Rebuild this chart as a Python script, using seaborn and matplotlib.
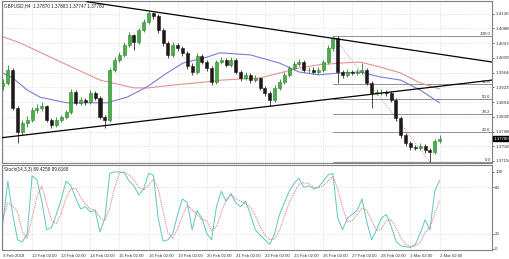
import numpy as np
import pandas as pd
import matplotlib
matplotlib.use("Agg")
import matplotlib.pyplot as plt
import seaborn as sns
from matplotlib.transforms import blended_transform_factory

sns.set_style("white")
plt.rcParams['font.family'] = ['Liberation Sans', 'DejaVu Sans']

# ---------------- data ----------------
symbol_title = "GBPUSD,H4  1.37870 1.37883 1.37747 1.37780"
stoch_title = "Stoch(14,3,3) 89.4258 89.6168"

opens = [1.3925, 1.3935, 1.3972, 1.3864, 1.3797, 1.3822, 1.3831, 1.3859, 1.3864, 1.3870,
         1.3831, 1.3817, 1.3831, 1.3839, 1.3853, 1.3910, 1.3879, 1.3887, 1.3881, 1.3907,
         1.3893, 1.3839, 1.3831, 1.3972, 1.4000, 1.4014, 1.4042, 1.4070, 1.4051, 1.4084,
         1.4107, 1.4132, 1.4124, 1.4084, 1.4048, 1.4014, 1.4042, 1.4034, 1.4020, 1.3983,
         1.3966, 1.4011, 1.3994, 1.3977, 1.3938, 1.3994, 1.4000, 1.3986, 1.4000, 1.3966,
         1.3949, 1.3958, 1.3943, 1.3949, 1.3921, 1.3907, 1.3887, 1.3921, 1.3938, 1.3958,
         1.3977, 1.3989, 1.3994, 1.3972, 1.3972, 1.3966, 1.3972, 1.3994, 1.4034, 1.4062,
         1.3966, 1.3958, 1.3966, 1.3963, 1.3966, 1.3972, 1.3935, 1.3907, 1.3910, 1.3910,
         1.3907, 1.3887, 1.3836, 1.3788, 1.3766, 1.3754, 1.3752, 1.3757, 1.3746, 1.3740,
         1.3771]
closes = [1.3935, 1.3972, 1.3864, 1.3797, 1.3822, 1.3831, 1.3859, 1.3864, 1.3870, 1.3831,
          1.3817, 1.3831, 1.3839, 1.3853, 1.3910, 1.3879, 1.3887, 1.3881, 1.3907, 1.3893,
          1.3839, 1.3831, 1.3972, 1.4000, 1.4014, 1.4042, 1.4070, 1.4051, 1.4084, 1.4107,
          1.4132, 1.4124, 1.4084, 1.4048, 1.4014, 1.4042, 1.4034, 1.4020, 1.3983, 1.3966,
          1.4011, 1.3994, 1.3977, 1.3938, 1.3994, 1.4000, 1.3986, 1.4000, 1.3966, 1.3949,
          1.3958, 1.3943, 1.3949, 1.3921, 1.3907, 1.3887, 1.3921, 1.3938, 1.3958, 1.3977,
          1.3989, 1.3994, 1.3972, 1.3972, 1.3966, 1.3972, 1.3994, 1.4034, 1.4062, 1.3966,
          1.3958, 1.3966, 1.3963, 1.3966, 1.3972, 1.3935, 1.3907, 1.3910, 1.3910, 1.3907,
          1.3887, 1.3836, 1.3788, 1.3766, 1.3754, 1.3752, 1.3757, 1.3746, 1.3740, 1.3771,
          1.3778]
highs = [1.3945, 1.3986, 1.3978, 1.3870, 1.3830, 1.3842, 1.3868, 1.3875, 1.3882, 1.3874,
         1.3836, 1.3838, 1.3846, 1.3860, 1.3918, 1.3914, 1.3896, 1.3893, 1.3915, 1.3912,
         1.3897, 1.3845, 1.3978, 1.4008, 1.4022, 1.4050, 1.4078, 1.4074, 1.4091, 1.4115,
         1.4137, 1.4136, 1.4128, 1.4090, 1.4054, 1.4050, 1.4049, 1.4040, 1.4025, 1.3990,
         1.4018, 1.4016, 1.4000, 1.3982, 1.4001, 1.4009, 1.4006, 1.4007, 1.4004, 1.3971,
         1.3966, 1.3963, 1.3957, 1.3953, 1.3927, 1.3912, 1.3928, 1.3945, 1.3965, 1.3984,
         1.3997, 1.4003, 1.3999, 1.3980, 1.3979, 1.3980, 1.4001, 1.4042, 1.4068, 1.4066,
         1.3972, 1.3973, 1.3971, 1.3974, 1.3991, 1.3977, 1.3940, 1.3918, 1.3917, 1.3916,
         1.3912, 1.3892, 1.3842, 1.3794, 1.3772, 1.3761, 1.3765, 1.3762, 1.3751, 1.3778,
         1.3787]
lows = [1.3915, 1.3928, 1.3858, 1.3766, 1.3789, 1.3812, 1.3825, 1.3850, 1.3856, 1.3824,
        1.3808, 1.3811, 1.3825, 1.3833, 1.3848, 1.3872, 1.3872, 1.3874, 1.3877, 1.3886,
        1.3832, 1.3808, 1.3826, 1.3965, 1.3993, 1.4008, 1.4036, 1.4028, 1.4045, 1.4078,
        1.4100, 1.4115, 1.4077, 1.4040, 1.4006, 1.4008, 1.4026, 1.4012, 1.3975, 1.3957,
        1.3960, 1.3987, 1.3970, 1.3930, 1.3932, 1.3987, 1.3979, 1.3980, 1.3959, 1.3941,
        1.3943, 1.3936, 1.3937, 1.3914, 1.3899, 1.3870, 1.3882, 1.3915, 1.3932, 1.3952,
        1.3971, 1.3983, 1.3965, 1.3964, 1.3959, 1.3960, 1.3967, 1.3989, 1.4026, 1.3935,
        1.3950, 1.3952, 1.3956, 1.3957, 1.3961, 1.3928, 1.3864, 1.3900, 1.3902, 1.3899,
        1.3880, 1.3829, 1.3780, 1.3758, 1.3746, 1.3745, 1.3746, 1.3738, 1.3712, 1.3735,
        1.3766]

# moving averages (bar index, price)
ma_red_idx = [0, 3.5, 11, 20, 27, 30, 35, 42, 45, 53, 61, 65, 69.5, 73.6, 77.7, 82, 86, 90]
ma_red_val = [1.4065, 1.4048, 1.4000, 1.3943, 1.3921, 1.3921, 1.3929, 1.3938, 1.3943,
              1.3949, 1.3977, 1.3986, 1.3991, 1.3994, 1.3980, 1.3963, 1.3935, 1.3918]
ma_blue_idx = [0, 2, 5, 7.6, 10.3, 13.2, 17.3, 21.4, 25.6, 29.7, 33.8, 37.1, 42.1, 44.7,
               51, 57, 61, 65, 69.5, 73.6, 77.7, 82, 86, 90]
ma_blue_val = [1.3963, 1.3949, 1.3915, 1.3895, 1.3887, 1.3879, 1.3879, 1.3879, 1.3895,
               1.3924, 1.3963, 1.3991, 1.4008, 1.4020, 1.4014, 1.3991, 1.3966, 1.3958,
               1.3963, 1.3966, 1.3952, 1.3943, 1.3915, 1.3879]

# trend lines (bar index, price)
upper_trend_idx = [17.3, 100.8]
upper_trend_val = [1.4164, 1.3994]
lower_trend_idx = [-0.6, 100.8]
lower_trend_val = [1.3780, 1.3943]

# fibonacci retracement anchors
fib_high_idx, fib_high = 68, 1.4068
fib_low_idx, fib_low = 88, 1.3712
fib_levels = [100.0, 61.8, 50.0, 38.2, 23.6, 0.0]

# stochastic
stoch_k = [34, 88, 45, 12, 9, 20, 95, 90, 62, 25, 28, 45, 64, 88, 82, 66, 52, 55, 48, 50,
           22, 40, 98, 100, 100, 99, 88, 82, 70, 78, 98, 96, 40, 10, 12, 20, 45, 65, 60, 25,
           50, 40, 20, 12, 55, 75, 62, 72, 60, 55, 62, 45, 25, 18, 12, 6, 20, 45, 60, 75,
           85, 92, 80, 82, 78, 80, 88, 96, 98, 40, 25, 40, 45, 50, 65, 35, 12, 25, 40, 45,
           30, 10, 4, 3, 2, 6, 20, 38, 25, 75, 89]
stoch_d = [40, 60, 56, 48, 22, 14, 41, 68, 82, 59, 38, 33, 46, 66, 78, 79, 67, 58, 52, 51,
           40, 37, 53, 79, 99, 100, 96, 90, 80, 77, 82, 91, 78, 49, 21, 14, 26, 43, 57, 50,
           45, 38, 37, 24, 29, 47, 64, 70, 65, 62, 59, 54, 44, 29, 18, 12, 13, 24, 42, 60,
           73, 84, 86, 85, 80, 80, 82, 88, 94, 78, 54, 35, 37, 45, 53, 50, 37, 24, 26, 37,
           38, 28, 15, 6, 3, 4, 9, 21, 28, 46, 63]

price_ticks = [1.41300, 1.40885, 1.40470, 1.40055, 1.39640, 1.39225, 1.38810, 1.38395,
               1.37980, 1.37565, 1.37150]
stoch_ticks = [100, 80, 20, 0]
date_idx = [0, 6, 12, 18, 24, 30, 36, 42, 48, 54, 60, 66, 72, 78, 84, 90]
date_labels = ["9 Feb 2018", "12 Feb 02:00", "13 Feb 02:00", "14 Feb 02:00", "15 Feb 02:00",
               "16 Feb 02:00", "19 Feb 02:00", "20 Feb 02:00", "21 Feb 02:00", "22 Feb 02:00",
               "23 Feb 02:00", "26 Feb 02:00", "27 Feb 02:00", "28 Feb 02:00", "1 Mar 02:00",
               "2 Mar 02:00"]
last_price = 1.37780

# ---------------- figure ----------------
W, H = 510, 259
fig = plt.figure(figsize=(W / 100, H / 100), dpi=100)
fig.patch.set_facecolor("white")
ax = fig.add_axes([2 / W, 1 - 163 / H, 490 / W, 162 / H])
axs = fig.add_axes([2 / W, 1 - 250 / H, 490 / W, 85 / H])

XLIM = (-0.2, 100.8)
grid_kw = dict(color="#c8c8c8", lw=0.5, ls=(0, (1, 2)))
tick_fs = 3.15
tick_color = "#333333"

for a in (ax, axs):
    a.set_xlim(*XLIM)
    a.set_facecolor("white")
    for s in a.spines.values():
        s.set_color("#808080")
        s.set_linewidth(0.8)
    a.yaxis.tick_right()
    a.tick_params(axis="y", length=1.5, width=0.5, pad=0.8, labelsize=tick_fs,
                  colors=tick_color)
    a.set_xticks(date_idx)
    for xi in date_idx:
        a.axvline(xi, zorder=0, **grid_kw)

ax.set_ylim(1.37093, 1.4166)
ax.set_yticks(price_ticks)
ax.set_yticklabels([f"{p:.5f}" for p in price_ticks])
for p in price_ticks:
    ax.axhline(p, zorder=0, **grid_kw)
ax.tick_params(axis="x", length=0, labelbottom=False)

# moving averages via seaborn
sns.lineplot(data=pd.DataFrame({"i": ma_red_idx, "v": ma_red_val}), x="i", y="v",
             ax=ax, color="#e89090", lw=0.8, zorder=2)
sns.lineplot(data=pd.DataFrame({"i": ma_blue_idx, "v": ma_blue_val}), x="i", y="v",
             ax=ax, color="#7c7cd8", lw=0.8, zorder=2)

# candles
o = np.array(opens); c = np.array(closes); h = np.array(highs); l = np.array(lows)
idx = np.arange(len(c))
up = c >= o
ax.vlines(idx[up], l[up], h[up], color="#2f7f2f", lw=0.6, zorder=3)
ax.vlines(idx[~up], l[~up], h[~up], color="#3a2a2a", lw=0.6, zorder=3)
body_lo = np.minimum(o, c)
body_h = np.maximum(np.abs(c - o), 0.00006)
ax.bar(idx[up], body_h[up], bottom=body_lo[up], width=0.62, color="#46b046",
       edgecolor="#2f7f2f", lw=0.4, zorder=4)
ax.bar(idx[~up], body_h[~up], bottom=body_lo[~up], width=0.62, color="#201818",
       edgecolor="#201818", lw=0.4, zorder=4)

# trend lines
ax.plot(upper_trend_idx, upper_trend_val, color="black", lw=0.9, zorder=5)
ax.plot(lower_trend_idx, lower_trend_val, color="black", lw=0.9, zorder=5)

# fibonacci
rng = fib_high - fib_low
for lev in fib_levels:
    y = fib_low + rng * lev / 100.0
    ax.plot([fib_high_idx, XLIM[1]], [y, y], color="#909090", lw=0.7, zorder=1)
    ax.text(XLIM[1] - 0.3, y, f"{lev:.1f}", ha="right", va="bottom", fontsize=3.2,
            color="#333333", zorder=6)
ax.plot([fib_high_idx, fib_low_idx], [fib_high, fib_low], color="#909090", lw=0.6,
        ls=(0, (1, 1.5)), zorder=1)

# current price box
tr = blended_transform_factory(ax.transAxes, ax.transData)
ax.text(1.004, last_price, f"{last_price:.5f}", transform=tr, ha="left", va="center",
        fontsize=tick_fs, color="white",
        bbox=dict(boxstyle="square,pad=0.15", fc="black", ec="black"), zorder=7,
        clip_on=False)

ax.text(0.004, 0.988, symbol_title, transform=ax.transAxes, ha="left", va="top",
        fontsize=3.3, color="#222222")
ax.set_xlabel(""); ax.set_ylabel("")

# stochastic panel
axs.set_ylim(-1.3, 109)
axs.set_yticks(stoch_ticks)
axs.set_yticklabels([str(t) for t in stoch_ticks])
for lv in (80, 20):
    axs.axhline(lv, zorder=0, **grid_kw)
sns.lineplot(data=pd.DataFrame({"i": idx, "k": stoch_k}), x="i", y="k", ax=axs,
             color="#5cc8c0", lw=0.7, zorder=3)
sns.lineplot(data=pd.DataFrame({"i": idx, "d": stoch_d}), x="i", y="d", ax=axs,
             color="#e07070", lw=0.7, ls=(0, (1, 1)), zorder=3)
axs.set_xticklabels(date_labels, fontsize=3.05, ha="left", color=tick_color)
axs.tick_params(axis="x", length=1.5, width=0.5, pad=1.5, colors=tick_color)
axs.text(0.004, 0.975, stoch_title, transform=axs.transAxes, ha="left", va="top",
         fontsize=3.3, color="#222222")
axs.set_xlabel(""); axs.set_ylabel("")

fig.savefig("out.png", dpi=100, facecolor="white")
